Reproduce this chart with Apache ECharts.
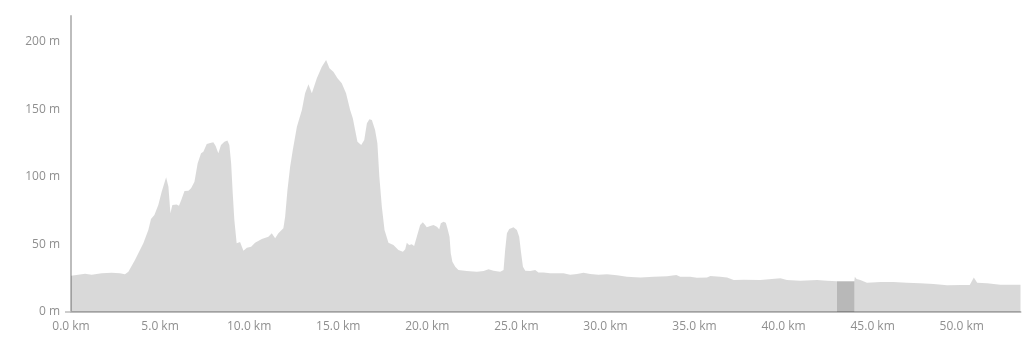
<!DOCTYPE html>
<html>
<head>
<meta charset="utf-8">
<script src="https://cdn.jsdelivr.net/npm/echarts@6/dist/echarts.min.js"></script>
<style>
html,body{margin:0;padding:0;background:#fff;}
#chart{width:1024px;height:339px;}
</style>
</head>
<body>
<div id="chart"></div>
<script>
// distance along the route (km)
const distanceKm = [
  0.0, 0.4, 0.79, 1.16, 1.72, 2.28, 2.75, 3.03, 3.22, 3.59,
  4.06, 4.34, 4.49, 4.68, 4.90, 5.09, 5.34, 5.47, 5.58, 5.69,
  5.93, 6.06, 6.21, 6.37, 6.59, 6.74, 6.93, 7.11, 7.30, 7.43,
  7.62, 7.81, 7.99, 8.12, 8.27, 8.42, 8.61, 8.78, 8.89, 8.99,
  9.08, 9.17, 9.30, 9.34, 9.49, 9.68, 9.87, 10.11, 10.33, 10.71,
  11.08, 11.27, 11.46, 11.64, 11.92, 12.02, 12.15, 12.30, 12.45, 12.68,
  12.96, 13.14, 13.33, 13.52, 13.80, 14.08, 14.32, 14.51, 14.73, 14.96,
  15.20, 15.44, 15.67, 15.82, 15.95, 16.08, 16.29, 16.46, 16.61, 16.75,
  16.89, 17.07, 17.20, 17.31, 17.45, 17.60, 17.82, 18.10, 18.38, 18.63,
  18.76, 18.85, 18.98, 19.13, 19.26, 19.41, 19.60, 19.75, 19.88, 19.97,
  20.16, 20.35, 20.54, 20.67, 20.76, 20.91, 21.04, 21.13, 21.25, 21.32,
  21.41, 21.57, 21.75, 22.22, 22.78, 23.16, 23.44, 23.72, 24.09, 24.28,
  24.37, 24.47, 24.60, 24.84, 25.03, 25.16, 25.27, 25.37, 25.50, 25.78,
  26.06, 26.24, 26.53, 26.90, 27.09, 27.65, 28.02, 28.40, 28.77, 29.15,
  29.61, 30.09, 30.65, 31.21, 31.96, 32.70, 33.45, 33.98, 34.20, 34.76,
  35.14, 35.70, 35.89, 36.45, 36.83, 37.20, 37.76, 38.69, 39.82, 40.19,
  40.94, 41.88, 42.44, 43.00, 43.50, 43.97, 44.00, 44.10, 44.31, 44.68,
  45.43, 46.18, 46.93, 47.68, 48.43, 49.18, 49.93, 50.45, 50.68, 50.87,
  51.43, 52.17, 53.30
];
// elevation (m)
const elevationM = [
  26.9, 27.5, 28.3, 27.6, 28.6, 29.1, 28.6, 27.9, 29.8, 38.5,
  50.8, 60.7, 68.8, 71.8, 79.2, 89.0, 99.7, 92.7, 73.0, 79.2,
  79.6, 78.7, 83.6, 89.5, 89.8, 91.5, 96.4, 110.0, 117.4, 118.6,
  124.3, 125.0, 125.5, 122.8, 117.4, 123.6, 126.0, 126.8, 123.6, 110.0,
  87.8, 68.0, 50.8, 49.6, 51.8, 45.4, 47.6, 48.3, 51.3, 54.0,
  55.7, 58.2, 54.5, 58.2, 61.9, 70.5, 90.3, 107.5, 119.9, 137.1,
  149.5, 161.8, 168.5, 161.8, 172.9, 181.5, 186.5, 180.3, 177.8, 172.9,
  169.2, 161.8, 149.5, 143.3, 134.7, 126.0, 123.6, 127.3, 139.6, 142.6,
  142.0, 134.7, 124.8, 100.1, 77.9, 60.7, 51.3, 49.6, 45.9, 44.6,
  46.4, 51.3, 49.6, 50.1, 48.8, 55.7, 64.4, 66.4, 64.4, 62.7,
  63.6, 64.4, 63.1, 61.2, 65.6, 66.8, 66.1, 61.9, 55.7, 43.4,
  37.2, 33.5, 31.1, 30.3, 29.8, 30.3, 31.6, 30.6, 29.8, 31.1,
  45.9, 58.2, 61.4, 62.7, 60.7, 55.7, 43.4, 33.5, 30.6, 30.3,
  31.1, 29.3, 29.3, 28.6, 28.6, 28.6, 27.6, 28.1, 29.1, 28.1,
  27.6, 27.9, 27.1, 26.1, 25.6, 26.1, 26.4, 27.4, 26.1, 26.1,
  25.4, 25.6, 26.6, 26.1, 25.6, 23.7, 23.9, 23.7, 24.9, 23.7,
  23.2, 23.7, 23.2, 22.7, 22.7, 22.7, 26.0, 24.5, 23.7, 21.7,
  22.2, 22.2, 21.7, 21.2, 20.7, 19.7, 20.0, 20.0, 25.6, 21.7,
  21.2, 20.2, 20.2
];
// highlighted section of the route (km)
const highlightKm = [43.0, 43.97];
// axis settings
const xMaxKm = 53.3;
const xStepKm = 5;
const yMaxM = 219;
const yStepM = 50;

const profile = distanceKm.map((d, i) => [d, elevationM[i]]);
const highlight = profile.filter(p => p[0] >= highlightKm[0] && p[0] <= highlightKm[1]);

const axisColor = '#bdbdbd';
const labelColor = '#8f8f8f';
const gridColor = '#ebebeb';
const font = '"Open Sans", "Noto Sans", sans-serif';

const chart = echarts.init(document.getElementById('chart'), null, {renderer: 'canvas'});
chart.setOption({
  animation: false,
  backgroundColor: '#ffffff',
  grid: {left: 71, right: 3.5, top: 16, bottom: 27, containLabel: false},
  xAxis: {
    type: 'value',
    min: 0,
    max: xMaxKm,
    interval: xStepKm,
    axisLine: {show: true, lineStyle: {color: axisColor, width: 2}},
    axisTick: {show: true, length: 6, customValues: [xMaxKm], lineStyle: {color: axisColor, width: 1.5}},
    axisLabel: {
      color: labelColor, fontSize: 12, fontFamily: font, margin: 9,
      showMaxLabel: false,
      formatter: v => v.toFixed(1) + ' km'
    },
    splitLine: {show: true, showMinLine: false, showMaxLine: false, lineStyle: {color: gridColor, width: 1}}
  },
  yAxis: {
    type: 'value',
    min: 0,
    max: yMaxM,
    interval: yStepM,
    axisLine: {show: true, lineStyle: {color: axisColor, width: 2}},
    axisTick: {show: true, length: 6, customValues: [0, yMaxM], lineStyle: {color: axisColor, width: 1.5}},
    axisLabel: {
      color: labelColor, fontSize: 12, fontFamily: font, margin: 11,
      showMaxLabel: false,
      formatter: v => v + ' m'
    },
    splitLine: {show: true, showMinLine: false, showMaxLine: false, lineStyle: {color: gridColor, width: 1}}
  },
  series: [
    {
      type: 'line',
      data: profile,
      showSymbol: false,
      symbol: 'none',
      smooth: false,
      lineStyle: {width: 0, opacity: 0},
      areaStyle: {color: 'rgba(0,0,0,0.15)', opacity: 1},
      silent: true
    },
    {
      type: 'line',
      data: highlight,
      showSymbol: false,
      symbol: 'none',
      lineStyle: {width: 0, opacity: 0},
      areaStyle: {color: 'rgba(0,0,0,0.15)', opacity: 1},
      silent: true
    }
  ]
});
</script>
</body>
</html>
